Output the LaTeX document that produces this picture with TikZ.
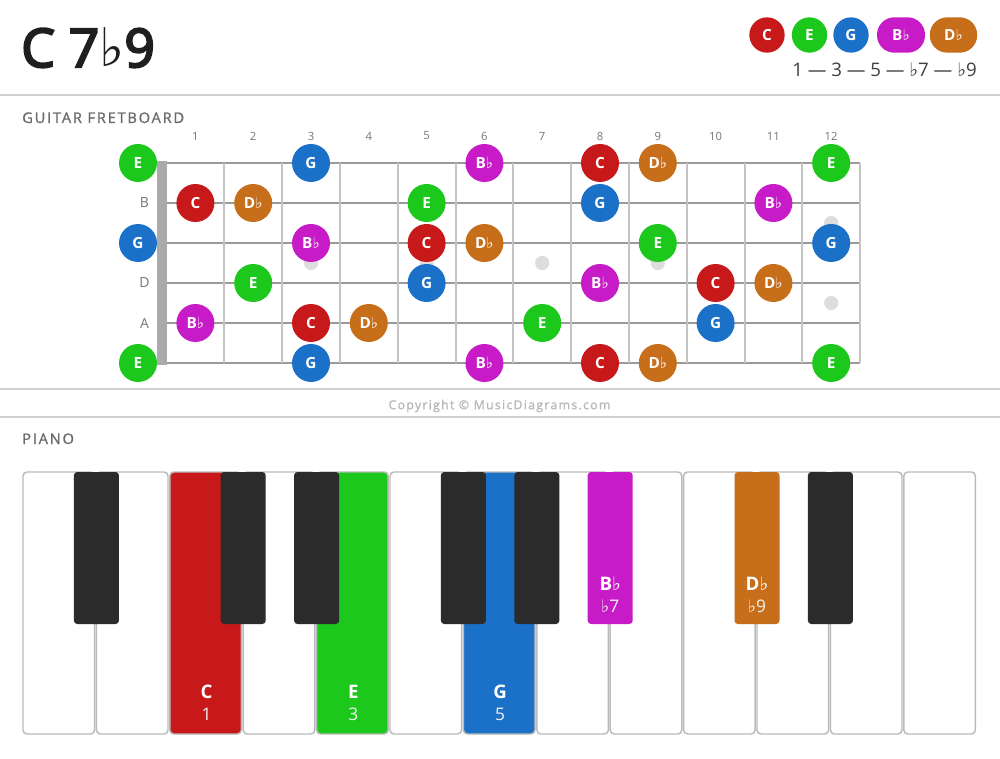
\documentclass[tikz,border=0pt]{standalone}
\usepackage{fontspec}
\setmainfont{Open Sans}
\newfontfamily\semib{Open Sans}[FakeBold=4]
\newfontfamily\medf{Open Sans}[FakeBold=1]
\newfontfamily\symfont{DejaVu Sans}
\newcommand\flatsym{{\symfont ♭}}
\definecolor{cC}{HTML}{C8191A}
\definecolor{cE}{HTML}{1DC81D}
\definecolor{cG}{HTML}{1B70C8}
\definecolor{cBb}{HTML}{C71BC7}
\definecolor{cDb}{HTML}{C66E19}
\definecolor{rule}{HTML}{D0D0D0}
\definecolor{strg}{HTML}{9A9A9A}
\definecolor{fret}{HTML}{C4C4C4}
\definecolor{nut}{HTML}{AAAAAA}
\definecolor{inlay}{HTML}{DDDDDD}
\definecolor{lbl}{HTML}{777777}
\definecolor{keyedge}{HTML}{BBBBBB}
\definecolor{blk}{HTML}{2B2B2B}
\newcommand\lbC{C}
\newcommand\lbE{E}
\newcommand\lbG{G}
\newcommand\lbBb{B\flatsym}
\newcommand\lbDb{D\flatsym}
\tikzset{
  note/.style={circle, minimum size=28.5pt, inner sep=0pt, text=white, font=\fontsize{11.5}{14}\selectfont\bfseries},
  legdot/.style={circle, minimum size=26.5pt, inner sep=0pt, text=white, font=\fontsize{11.5}{14}\selectfont\bfseries},
  legpill/.style={rectangle, rounded corners=13pt, minimum height=26.5pt, inner sep=0pt, text=white, font=\fontsize{11.5}{14}\selectfont\bfseries},
  fretnum/.style={text=lbl, font=\fontsize{8.5}{10}\selectfont},
  strlbl/.style={text=lbl, font=\fontsize{10.5}{12}\selectfont},
  section/.style={text=lbl!90!black, anchor=base west, inner sep=0pt, font=\fontsize{11}{13}\selectfont\medf\addfontfeatures{LetterSpace=12}},
  hrule/.style={draw=rule, line width=1.5pt},
  whitekey/.style={draw=keyedge, line width=1.1pt, rounded corners=3pt},
  blackkey/.style={rounded corners=2.5pt},
  keyname/.style={text=white, font=\fontsize{14}{16}\selectfont\bfseries},
  keydeg/.style={text=white!90!gray, font=\fontsize{13}{15}\selectfont},
}
\begin{document}
\begin{tikzpicture}[x=0.75pt,y=-0.75pt]
\fill[white] (0,0) rectangle (1000,759);
\useasboundingbox (0,0) rectangle (1000,759);
% title
\node[anchor=base west, inner sep=0pt, text=black!88, font=\fontsize{40}{44}\selectfont\semib] (title) at (21,67) {C 7\flatsym9};
% legend
\node[legdot, fill=cC] (lC) at (767,35) {C};
\node[legdot, fill=cE] (lE) at (809.5,35) {E};
\node[legdot, fill=cG] (lG) at (851,35) {G};
\node[legpill, fill=cBb, minimum width=36pt] (lBb) at (901,35) {B\flatsym};
\node[legpill, fill=cDb, minimum width=35.5pt] (lDb) at (953.5,35) {D\flatsym};
\node[anchor=base east, inner sep=0pt, text=black!75, font=\fontsize{14}{16}\selectfont] (degs) at (977,77) {1 — 3 — 5 — \flatsym7 — \flatsym9};
\draw[hrule] (0,95) -- (1000,95);
% fretboard
\node[section] (gt) at (22,123) {GUITAR FRETBOARD};
\foreach \s in {1,...,6}{
  \pgfmathsetmacro\yy{123+40*\s}
  \draw[strg, line width=2.2pt] (157,\yy) -- (860,\yy);
}
\foreach \n in {1,...,12}{
  \pgfmathsetmacro\xx{166.5+\n*57.8}
  \draw[fret, line width=1.5pt] (\xx,163) -- (\xx,363);
  \pgfmathsetmacro\xc{166.5+(\n-0.5)*57.8}
  \node[fretnum] (fn\n) at (\xc,136) {\n};
}
\fill[nut] (157,161) rectangle (167,365);
\foreach \f/\yy in {3/263,5/263,7/263,9/263,12/223,12/303}{
  \pgfmathsetmacro\xc{166.5+(\f-0.5)*57.8}
  \fill[inlay] (\xc,\yy) circle (5.3pt);
}
\node[strlbl] (sB) at (144.5,203) {B};
\node[strlbl] (sD) at (144.5,283) {D};
\node[strlbl] (sA) at (144.5,323) {A};
\foreach \s/\f/\n in {1/0/E,1/3/G,1/6/Bb,1/8/C,1/9/Db,1/12/E,
  2/1/C,2/2/Db,2/5/E,2/8/G,2/11/Bb,
  3/0/G,3/3/Bb,3/5/C,3/6/Db,3/9/E,3/12/G,
  4/2/E,4/5/G,4/8/Bb,4/10/C,4/11/Db,
  5/1/Bb,5/3/C,5/4/Db,5/7/E,5/10/G,
  6/0/E,6/3/G,6/6/Bb,6/8/C,6/9/Db,6/12/E}{
  \ifnum\f=0 \def\xx{138}\else\pgfmathsetmacro\xx{166.5+(\f-0.5)*57.8}\fi
  \pgfmathsetmacro\yy{123+40*\s}
  \node[note, fill=c\n] (n-\s-\f) at (\xx,\yy) {\csname lb\n\endcsname};
}
\draw[hrule] (0,389) -- (1000,389);
\node[text=black!28, font=\fontsize{9.3}{11}\selectfont\medf\addfontfeatures{LetterSpace=10}] (copy) at (499.5,406) {Copyright © MusicDiagrams.com};
\draw[hrule] (0,417) -- (1000,417);
% piano
\node[section] (pn) at (22,444) {PIANO};
\foreach \i/\c in {0/white,1/white,2/cC,3/white,4/cE,5/white,6/cG,7/white,8/white,9/white,10/white,11/white,12/white}{
  \pgfmathsetmacro\xa{23+\i*73.4}
  \pgfmathsetmacro\xb{23+\i*73.4+71.6}
  \draw[whitekey, fill=\c] (\xa,472) rectangle (\xb,734);
  \coordinate (w\i) at ({23+\i*73.4+35.8},0);
}
\foreach \j/\c in {1/blk,3/blk,4/blk,6/blk,7/blk,8/cBb,10/cDb,11/blk}{
  \pgfmathsetmacro\xa{23+\j*73.4-22.5}
  \pgfmathsetmacro\xb{23+\j*73.4+22.5}
  \fill[blackkey, fill=\c] (\xa,472) rectangle (\xb,624);
  \coordinate (b\j) at ({23+\j*73.4},0);
}
\node[keyname] (kC) at (206.5,692) {C};
\node[keydeg] (dC) at (206.5,714) {1};
\node[keyname] (kE) at (353.3,692) {E};
\node[keydeg] (dE) at (353.3,714) {3};
\node[keyname] (kG) at (500.1,692) {G};
\node[keydeg] (dG) at (500.1,714) {5};
\node[keyname] (kBb) at (610.2,584) {B\flatsym};
\node[keydeg] (dBb) at (610.2,606) {\flatsym7};
\node[keyname] (kDb) at (757,584) {D\flatsym};
\node[keydeg] (dDb) at (757,606) {\flatsym9};
\end{tikzpicture}
\end{document}
